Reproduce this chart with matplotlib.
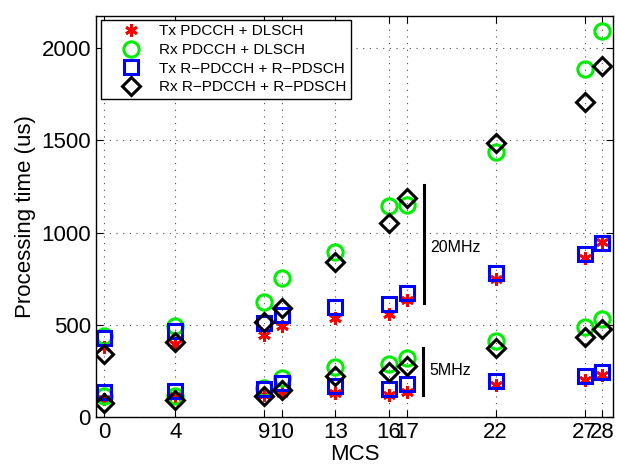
import numpy as np
import matplotlib
matplotlib.use('Agg')
import matplotlib.pyplot as plt

plt.rcParams['font.family'] = ['Liberation Sans', 'DejaVu Sans']

# MCS values
mcs = [0, 4, 9, 10, 13, 16, 17, 22, 27, 28]

# 20 MHz processing times (us)
tx_pdcch_20 = [382, 398, 446, 491, 536, 561, 634, 749, 860, 948]
rx_pdcch_20 = [437, 495, 626, 755, 897, 1143, 1152, 1437, 1885, 2093]
tx_rpdcch_20 = [428, 464, 509, 554, 599, 612, 672, 779, 884, 945]
rx_rpdcch_20 = [341, 405, 515, 590, 840, 1050, 1189, 1486, 1706, 1905]

# 5 MHz processing times (us)
tx_pdcch_5 = [100, 112, 121, 130, 130, 117, 135, 172, 200, 228]
rx_pdcch_5 = [112, 115, 157, 211, 274, 287, 320, 413, 490, 532]
tx_rpdcch_5 = [135, 142, 153, 184, 170, 154, 180, 197, 224, 243]
rx_rpdcch_5 = [76, 94, 112, 148, 220, 246, 279, 375, 435, 477]

labels = ['Tx PDCCH + DLSCH', 'Rx PDCCH + DLSCH',
          'Tx R\u2212PDCCH + R\u2212PDSCH', 'Rx R\u2212PDCCH + R\u2212PDSCH']

fig = plt.figure(figsize=(6.18, 4.66), dpi=100)
ax = fig.add_axes([0.155, 0.105, 0.837, 0.861])

styles = [dict(marker=(6, 2, 0), color='red', ms=9, mew=2),
          dict(marker='o', color='#00ee00', ms=11, mew=2.2, mfc='none'),
          dict(marker='s', color='blue', ms=10, mew=2.2, mfc='none'),
          dict(marker='D', color='black', ms=9, mew=2.2, mfc='none')]
series = [(tx_pdcch_20, tx_pdcch_5), (rx_pdcch_20, rx_pdcch_5),
          (tx_rpdcch_20, tx_rpdcch_5), (rx_rpdcch_20, rx_rpdcch_5)]

for (s20, s5), st, lab in zip(series, styles, labels):
    ax.plot(mcs, s20, ls='none', label=lab, **st)
    ax.plot(mcs, s5, ls='none', **st)

# bandwidth annotations
ax.plot([18, 18], [621, 1258], color='k', lw=2.2)
ax.text(18.3, 917, '20MHz', fontsize=11.5, va='center')
ax.plot([17.9, 17.9], [121, 375], color='k', lw=2.2)
ax.text(18.3, 250, '5MHz', fontsize=11.5, va='center')

ax.set_xlim(-0.47, 28.6)
ax.set_ylim(0, 2175)
ax.set_xticks(mcs)
ax.set_yticks([0, 500, 1000, 1500, 2000])
ax.grid(True, ls=(0, (1, 5)), color='0.3', lw=0.8)
ax.tick_params(direction='in', top=True, right=True, length=5, labelsize=16)
for sp in ax.spines.values():
    sp.set_linewidth(1.0)
ax.set_xlabel('MCS', fontsize=16, labelpad=1)
ax.set_ylabel('Processing time (us)', fontsize=16)

leg = ax.legend(loc='upper left', bbox_to_anchor=(0.01, 0.99), fontsize=11,
                frameon=True, fancybox=False, edgecolor='k', framealpha=1,
                borderpad=0.3, labelspacing=0.3, handletextpad=0.2,
                handlelength=3.3, borderaxespad=0)
leg.get_frame().set_linewidth(1.0)

fig.savefig('out.png', dpi=100)
